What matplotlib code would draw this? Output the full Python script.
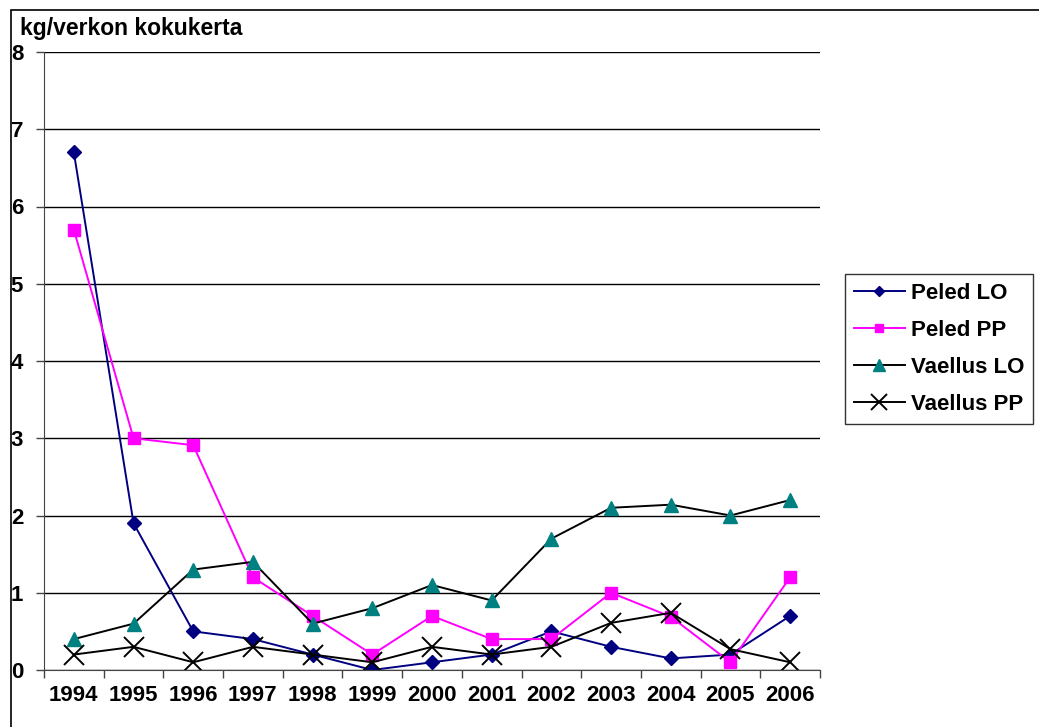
import matplotlib
matplotlib.use("Agg")
import matplotlib.pyplot as plt
from matplotlib.patches import Rectangle

plt.rcParams["font.family"] = ["Liberation Sans", "DejaVu Sans"]
plt.rcParams["font.weight"] = "bold"

years = ["1994", "1995", "1996", "1997", "1998", "1999", "2000",
         "2001", "2002", "2003", "2004", "2005", "2006"]
peledLO = [6.7, 1.9, 0.5, 0.4, 0.2, 0.0, 0.1, 0.2, 0.5, 0.3, 0.15, 0.2, 0.7]
peledPP = [5.7, 3.0, 2.91, 1.2, 0.7, 0.2, 0.7, 0.4, 0.4, 1.0, 0.69, 0.1, 1.2]
vaellusLO = [0.4, 0.6, 1.3, 1.4, 0.6, 0.8, 1.1, 0.9, 1.7, 2.1, 2.14, 2.0, 2.2]
vaellusPP = [0.2, 0.3, 0.1, 0.3, 0.2, 0.1, 0.3, 0.2, 0.3, 0.61, 0.74, 0.27, 0.1]

fig = plt.figure(figsize=(10.39, 7.27), dpi=100)
# outer chart frame like excel
fig.patches.append(Rectangle((11/1039, -0.1), 1.2, 0.1 + (727-10)/727,
                             transform=fig.transFigure, fill=False,
                             edgecolor="black", lw=1.2))

ax = fig.add_axes([44/1039, 57/727, (820-44)/1039, (670-52)/727])
x = list(range(len(years)))

ax.plot(x, peledLO, color="#000080", marker="D", ms=7, lw=1.4, label="Peled LO")
ax.plot(x, peledPP, color="#FF00FF", marker="s", ms=8, lw=1.4, label="Peled PP")
ax.plot(x, vaellusLO, color="black", marker="^", ms=10, mfc="#008080",
        mec="#008080", lw=1.4, label="Vaellus LO")
ax.plot(x, vaellusPP, color="black", marker="x", ms=14, mew=1.4, lw=1.4,
        label="Vaellus PP")

ax.set_xlim(-0.5, len(years) - 0.5)
ax.set_ylim(0, 8)
ax.set_yticks(range(9))
ax.yaxis.grid(True, color="black", lw=1)
ax.set_axisbelow(True)
ax.set_xticks(x)
ax.set_xticklabels(years, fontsize=16, fontweight="bold")
ax.set_xticks([i - 0.5 for i in range(len(years) + 1)], minor=True)
ax.tick_params(axis="x", which="major", length=0, pad=11)
ax.tick_params(axis="x", which="minor", length=6, width=1, color="#444444")
ax.tick_params(axis="y", length=6, width=1, color="#444444", labelsize=16, pad=9)
for lab in ax.get_yticklabels():
    lab.set_fontweight("bold")

for s in ["top", "right"]:
    ax.spines[s].set_visible(False)
ax.spines["left"].set_color("#444444")
ax.spines["bottom"].set_color("#444444")

fig.text(20/1039, 1 - 28/727, "kg/verkon kokukerta", fontsize=16.5,
         fontweight="bold", va="center", ha="left")

leg = ax.legend(loc="center left", bbox_to_anchor=(845/1039, 1 - 349/727),
                bbox_transform=fig.transFigure, frameon=True, fancybox=False,
                edgecolor="black", fontsize=16, handlelength=2.3,
                handletextpad=0.25, labelspacing=0.72, borderpad=0.4,
                borderaxespad=0, markerscale=0.8)
leg.get_frame().set_linewidth(1)
for t in leg.get_texts():
    t.set_fontweight("bold")

fig.savefig("out.png", dpi=100)
